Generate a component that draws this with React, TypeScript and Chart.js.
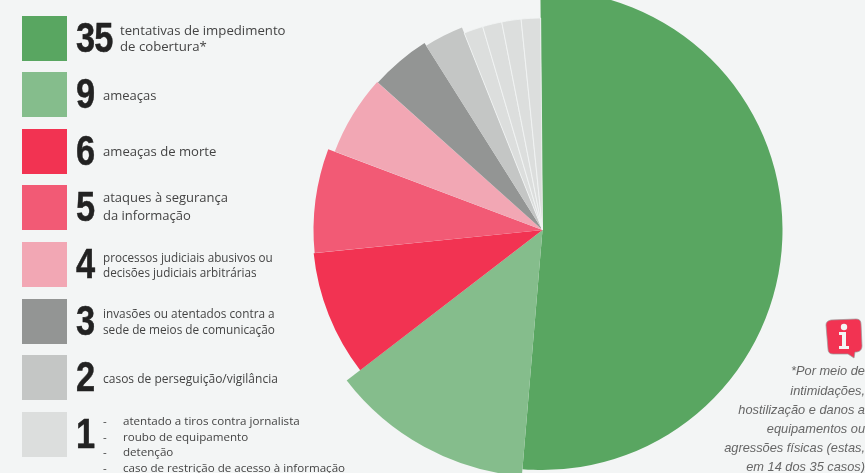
import React, { useEffect, useRef } from "react";
import { Chart, registerables } from "chart.js";

Chart.register(...registerables);

const sliceValues = [35, 9, 6, 5, 4, 3, 2, 1, 1, 1, 1];
const sliceColors = ["#59a661", "#85bd8c", "#f23352", "#f25a75", "#f2a7b4", "#939594", "#c4c6c5", "#dcdedd", "#dcdedd", "#dcdedd", "#dcdedd"];
const sliceRadii = [240, 247, 230, 229, 222, 221, 218, 212, 212, 212, 212];
const sliceBorders = [0, 0, 0, 0, 0, 0, 0, 0.8, 0.8, 0.8, 0.8];

const legendCounts = ["35", "9", "6", "5", "4", "3", "2", "1"];
const legendColors = ["#59a661", "#85bd8c", "#f23352", "#f25a75", "#f2a7b4", "#939594", "#c4c6c5", "#dcdedd"];
const legendTops = [16, 72, 129, 185, 242, 299, 355, 412];
const legendLabels = [
  ["tentativas de impedimento", "de cobertura*"],
  ["ameaças"],
  ["ameaças de morte"],
  ["ataques à segurança", "da informação"],
  ["processos judiciais abusivos ou", "decisões judiciais arbitrárias"],
  ["invasões ou atentados contra a", "sede de meios de comunicação"],
  ["casos de perseguição/vigilância"],
];
const legendLabelY = [[30, 46], [95], [151], [197, 215], [257, 272], [313, 329], [379]];
const legendLabelSize = [13.2, 13, 13.1, 13, 11.7, 11.8, 12];
const singleCases = ["atentado a tiros contra jornalista", "roubo de equipamento", "detenção", "caso de restrição de acesso à informação"];
const singleCaseY = [421, 437, 452, 468];
const noteLines = ["*Por meio de", "intimidações,", "hostilização e danos a", "equipamentos ou", "agressões físicas (estas,", "em 14 dos 35 casos)"];
const noteY = [371, 391, 410, 429, 448, 467];

const BG = "#f3f5f5";
const FONT = '"Open Sans", "Noto Sans", sans-serif';

const radiusPlugin = {
  id: "sliceRadii",
  afterDatasetsUpdate(chart: any) {
    chart.getDatasetMeta(0).data.forEach((arc: any, i: number) => {
      arc.outerRadius = sliceRadii[i];
    });
  },
};

const abs = (left: number, top: number, extra: any = {}) => ({ position: "absolute", left, top, ...extra }) as React.CSSProperties;

export default function App() {
  const ref = useRef<HTMLCanvasElement>(null);
  useEffect(() => {
    document.body.style.margin = "0";
    document.body.style.background = BG;
    const chart = new Chart(ref.current!, {
      type: "pie",
      data: {
        labels: sliceValues.map((_, i) => String(i)),
        datasets: [{ data: sliceValues, backgroundColor: sliceColors, borderColor: BG, borderWidth: sliceBorders }],
      },
      plugins: [radiusPlugin],
      options: {
        responsive: false,
        animation: false,
        rotation: -0.5,
        layout: { padding: { left: 220, bottom: 13 } },
        plugins: { legend: { display: false }, tooltip: { enabled: false } },
      },
    } as any);
    return () => chart.destroy();
  }, []);

  const line = (text: string, x: number, y: number, size: number, key: string) => (
    <div key={key} style={abs(x, y - 10, { height: 20, lineHeight: "20px", fontSize: size, fontFamily: FONT, color: "#444", whiteSpace: "nowrap" })}>{text}</div>
  );

  return (
    <div style={{ position: "relative", width: 865, height: 473, overflow: "hidden", background: BG }}>
      <canvas ref={ref} width={865} height={473} style={{ position: "absolute", left: 0, top: 0, width: 865, height: 473 }} />
      {legendCounts.map((c, i) => (
        <React.Fragment key={c}>
          <div style={abs(22, legendTops[i], { width: 45, height: 45, background: legendColors[i] })} />
          <div style={abs(76, legendTops[i] - 1, { height: 45, lineHeight: "45px", fontFamily: '"Liberation Sans", sans-serif', fontWeight: 700, fontSize: 43, color: "#222", letterSpacing: -1, transform: "scaleX(0.8)", transformOrigin: "left center", WebkitTextStroke: "0.5px #222" })}>{c}</div>
        </React.Fragment>
      ))}
      {legendLabels.map((lines, i) =>
        lines.map((t, j) => line(t, i === 0 ? 120 : 103, legendLabelY[i][j], legendLabelSize[i], `l${i}-${j}`))
      )}
      {singleCases.map((t, i) => (
        <React.Fragment key={t}>
          {line("-", 103, singleCaseY[i], 11.6, `d${i}`)}
          {line(t, 123, singleCaseY[i], 11.6, `s${i}`)}
        </React.Fragment>
      ))}
      {noteLines.map((t, i) => (
        <div key={t} style={abs(665, noteY[i] - 10, { width: 200, height: 20, lineHeight: "20px", textAlign: "right", fontFamily: '"Liberation Sans", sans-serif', fontStyle: "italic", fontSize: 12.8, color: "#666", whiteSpace: "nowrap" })}>{t}</div>
      ))}
      <svg width={40} height={44} style={abs(824, 317)}>
        <path d="M7 3 L32 2 Q37 2 37 7 L38 29 Q38 34 33 35 L31 35 L30 41 L24 37 L9 37 Q4 37 4 32 L2 8 Q2 4 7 3 Z" fill="#f23352" stroke="#999" strokeWidth={0.7} />
        <circle cx={20} cy={10} r={3.2} fill="#f3f5f5" />
        <path d="M15 15 L22 15 L22 29 L25 29 L25 32 L15 32 L15 29 L18 29 L18 18 L15 18 Z" fill="#f3f5f5" />
      </svg>
    </div>
  );
}
